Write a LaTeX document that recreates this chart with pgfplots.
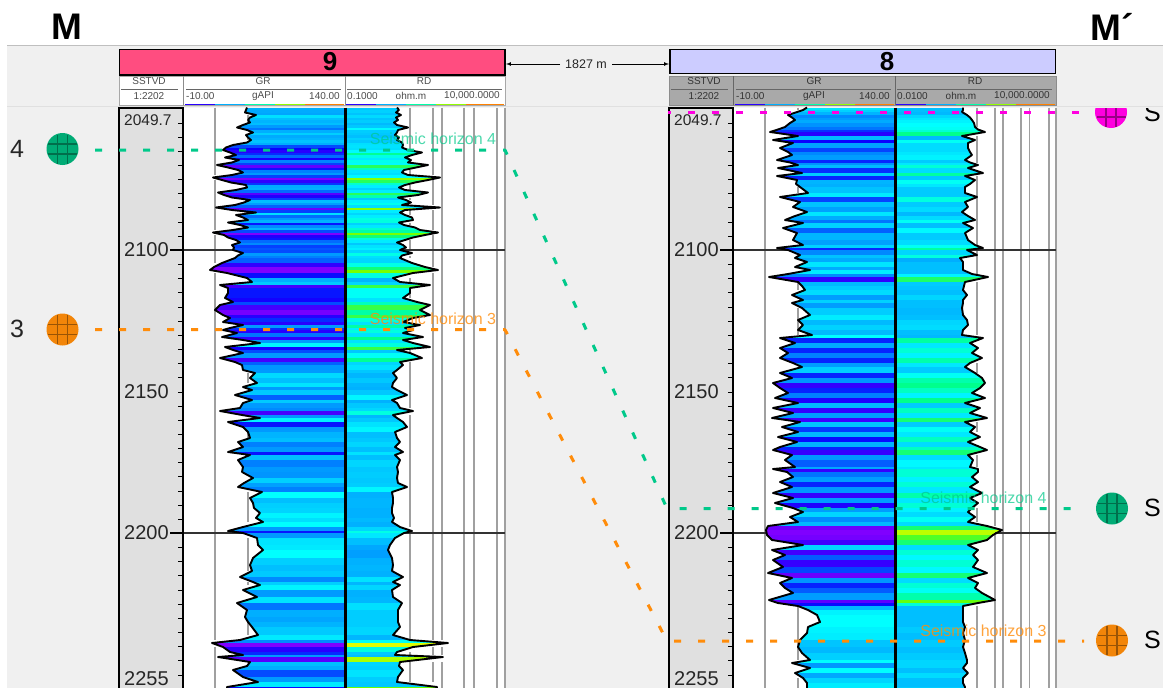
\documentclass[border=0pt]{standalone}
\usepackage{pgfplots}
\usepackage{pgfplotstable}
\usepackage{fontspec}
\setmainfont{Liberation Sans}
\pgfplotsset{compat=1.18}
\definecolor{pagebg}{HTML}{F0F0F0}
\definecolor{depthbg}{HTML}{E0E0E0}
\definecolor{pinkhead}{HTML}{FF4D80}
\definecolor{lavhead}{HTML}{CCCCFF}
\definecolor{subgray}{HTML}{A9A9A9}
\definecolor{gridg}{HTML}{A0A0A0}
\definecolor{hgreen}{HTML}{00C98A}
\definecolor{horange}{HTML}{FF8C0A}
\definecolor{hmag}{HTML}{FF00E0}
\newcommand{\fs}[1]{\fontsize{#1}{#1}\selectfont}
\pgfdeclareplotmark{gband}{\pgfpathrectangle{\pgfpoint{-80pt}{-12pt}}{\pgfpoint{160pt}{12pt}}\pgfusepathqfill}
\pgfdeclareplotmark{blob}{%
  \pgfpathcircle{\pgfpointorigin}{16pt}\pgfusepathqfill
  \pgfsetlinewidth{1.1pt}%
  \pgfpathmoveto{\pgfpoint{-5pt}{-14.5pt}}\pgfpathlineto{\pgfpoint{-5pt}{14.5pt}}%
  \pgfpathmoveto{\pgfpoint{5pt}{-14.5pt}}\pgfpathlineto{\pgfpoint{5pt}{14.5pt}}%
  \pgfpathmoveto{\pgfpoint{-14.5pt}{-5pt}}\pgfpathlineto{\pgfpoint{14.5pt}{-5pt}}%
  \pgfpathmoveto{\pgfpoint{-14.5pt}{5pt}}\pgfpathlineto{\pgfpoint{14.5pt}{5pt}}%
  \pgfusepathqstroke}
\pgfplotstableread{
y
123
137
151
165
179
193.5
207.5
222
236
250
264
278.5
292.5
307
321
335
349
363.5
377.5
392
406
420
434
448.5
462.5
476.5
491
505
519
533
547
561.5
575.5
590
604
618
632
646.5
660.5
675
}\ticktab
\pgfplotstableread{
y gr rd
107.5 247 397
110 246 399
112.5 245 396
115 256 401
117.5 250 396
120 248 398
122.5 250 394
125 243 397
127.5 237 408
130 247 398
132.5 253 397
135 246 395
137.5 248 399
140 251 397
142.5 247 402
145 233 403
147.5 226 402
150 223 408
152.5 230 422
155 236 412
157.5 225 405
160 239 411
162.5 232 408
165 217 428
167.5 228 416
170 238 404
172.5 243 402
175 232 408
177.5 213 440
180 222 428
182.5 231 415
185 246 405
187.5 247 399
190 236 405
192.5 218 428
195 224 418
197.5 232 398
200 250 406
202.5 244 411
205 235 402
207.5 216 440
210 232 405
212.5 256 400
215 236 405
217.5 243 412
220 248 413
222.5 228 399
225 240 404
227.5 248 415
230 233 420
232.5 213 438
235 224 425
237.5 228 413
240 236 405
242.5 240 397
245 232 403
247.5 234 406
250 233 400
253 243 412
255.5 238 402
258 235 400
263 222 412
267 214 425
270 210 438
273 227 413
278 247 393
282 252 400
285 220 430
288 228 410
293 228 410
298 225 403
302 233 417
305 220 430
310 215 420
315 223 430
318 230 413
322 223 403
325 243 420
328 230 405
330 223 413
333 237 403
337 222 423
340 243 403
343 260 413
347 225 430
350 233 397
353 243 410
358 220 422
362 235 400
365 242 403
370 243 397
373 255 393
378 250 397
383 257 393
387 243 392
390 252 397
395 235 407
400 252 392
403 243 397
408 240 400
411 220 413
415 242 393
418 260 397
422 228 403
427 243 407
432 248 395
438 250 397
442 238 400
447 243 395
452 228 403
455 250 395
460 238 400
467 243 397
472 242 398
478 253 397
483 244 398
487 238 407
492 262 392
498 250 393
503 253 393
508 254 392
513 260 392
518 256 394
522 263 392
527 243 400
531 228 412
533 243 404
538 257 395
545 258 390
550 263 388
558 253 392
565 250 393
571 252 392
577 240 403
582 253 393
585 260 400
590 243 392
597 257 393
603 237 402
610 247 398
617 245 398
622 248 398
627 252 400
635 258 393
640 240 410
643 212 448
647 223 413
652 230 397
655 243 395
657 218 443
662 250 400
666 247 399
670 233 403
677 243 398
682 258 397
687 227 437
690 227 437
}\wellA
\pgfplotstableread{
y gr rd
107.5 807 963
110 803 963
112 797 962
115 788 967
117.5 792 970
120 795 972
123 790 974
127 785 975
129.5 778 978
132 770 985
136 798 962
140 773 975
143 793 968
148 780 968
152 788 970
155 792 972
160 777 965
162.5 790 970
165 798 978
168 778 968
173 802 983
176 777 965
180 797 975
184 796 970
187 800 965
193 808 965
197 780 977
202 800 965
207 793 968
212 807 962
216 795 968
220 785 975
223 803 963
228 783 973
233 797 965
240 793 968
245 803 975
248 777 983
250 788 967
255 800 977
258 795 960
262 807 963
267 795 963
270 810 963
274 788 972
277 769 988
282 798 965
286 802 964
290 805 963
295 792 967
300 803 963
303 792 963
308 802 962
315 810 963
320 798 967
325 803 968
330 798 963
335 812 962
338 780 983
343 795 970
348 780 978
353 788 972
358 780 982
363 793 970
367 802 965
373 780 975
378 792 982
383 773 985
388 780 980
393 788 972
398 775 985
403 798 965
408 773 980
413 793 970
418 772 987
422 800 965
427 782 975
432 798 970
437 778 980
442 797 968
447 780 980
450 773 987
455 792 968
460 785 973
467 795 970
469 773 978
472 787 978
477 793 972
482 780 978
487 792 970
493 773 982
498 793 970
503 775 978
508 793 972
512 803 968
517 790 975
522 798 968
526 768 987
530 766 1002
535 767 993
540 772 987
545 803 968
550 772 978
555 785 973
560 773 978
567 783 973
573 768 987
578 792 968
583 780 978
588 785 975
593 793 982
600 769 995
603 778 978
606 798 963
610 808 963
615 817 963
622 820 963
627 808 965
633 807 963
640 800 965
647 798 963
653 802 965
660 810 967
663 792 967
668 810 963
673 795 968
678 803 963
683 807 963
687 807 965
690 807 965
}\wellB
\newcommand{\grid}[4]{% x, table, column, domain
  \addplot[gridg, line width=1.8pt, unbounded coords=jump, restrict expr to domain={\thisrow{#3}}{#4}, forget plot] table[x expr=#1, y=y] {#2};}
\newcommand{\ramp}[6]{%
  \addplot[mesh, point meta=explicit, line width=1pt, forget plot] coordinates {(#1,104.6) [0] (#2,104.6) [1.5] (#3,104.6) [4] (#4,104.6) [5.5] (#5,104.6) [7] (#6,104.6) [8]};}
\newcommand{\depthlabels}[1]{%
  \node[anchor=west, inner sep=0pt, font=\fs{15.5}, text=black!85] at (axis cs:#1,120) {2049.7};
  \node[anchor=west, inner sep=0pt, font=\fs{20}, text=black!85] at (axis cs:#1,250) {2100};
  \node[anchor=west, inner sep=0pt, font=\fs{20}, text=black!85] at (axis cs:#1,392) {2150};
  \node[anchor=west, inner sep=0pt, font=\fs{20}, text=black!85] at (axis cs:#1,533) {2200};
  \node[anchor=west, inner sep=0pt, font=\fs{20}, text=black!85] at (axis cs:#1,679) {2255};}
\newcommand{\htext}[5]{\node[font=\fs{10}, text=#1, anchor=#2, inner sep=0pt] at (axis cs:#3,#4) {#5};}
\begin{document}
\begin{tikzpicture}
\path[use as bounding box, clip] (0,0) rectangle (1163pt,688pt);
\begin{axis}[
  at={(0,0)}, anchor=south west,
  scale only axis, width=1163pt, height=688pt,
  xmin=0, xmax=1163, ymin=0, ymax=688, y dir=reverse,
  axis lines=none, ticks=none, clip mode=individual,
  point meta min=0, point meta max=8,
  colormap={wellmap}{rgb255=(128,0,255) rgb255=(10,0,255) rgb255=(0,128,255) rgb255=(0,191,255) rgb255=(0,255,255) rgb255=(0,255,140) rgb255=(110,255,0) rgb255=(255,255,0) rgb255=(255,0,0)},
  every axis plot/.append style={line join=round},
]
% page
\fill[pagebg] (axis cs:7,46) rectangle (axis cs:1163,688);
\draw[black!25, line width=1pt] (axis cs:7,45.5) -- (axis cs:1163,45.5);
% symbols that the header band clips on the right
\addplot[only marks, mark=blob, mark options={fill=hmag, draw=hmag!60!black}, forget plot] coordinates {(1111,112)};
\node[font=\fs{25}, text=black] at (axis cs:1152.5,113) {S};
\fill[pagebg] (axis cs:1057,46) rectangle (axis cs:1163,107.5);
\draw[white!88!black, line width=1pt] (axis cs:7,106) -- (axis cs:1163,106);
% track backgrounds
\fill[white] (axis cs:183,107.5) rectangle (axis cs:505,688);
\fill[white] (axis cs:733,107.5) rectangle (axis cs:1056,688);
% bands well 9
\addplot[scatter, only marks, mark=gband, point meta=explicit, scatter/use mapped color={draw=mapped color, fill=mapped color}, forget plot] table[x expr=265, y=y, meta expr={min((\thisrow{gr}-214)/12,4)}] {\wellA};
\addplot[scatter, only marks, mark=gband, point meta=explicit, scatter/use mapped color={draw=mapped color, fill=mapped color}, forget plot] table[x expr=425, y=y, meta expr={3+(\thisrow{rd}-395)/14}] {\wellA};
% bands well 8
\addplot[scatter, only marks, mark=gband, point meta=explicit, scatter/use mapped color={draw=mapped color, fill=mapped color}, forget plot] table[x expr=815, y=y, meta expr={\thisrow{y}<335 ? min(2.3+(\thisrow{gr}-790)/13,3.7) : min((\thisrow{gr}-766)/11,4)}] {\wellB};
\addplot[scatter, only marks, mark=gband, point meta=explicit, scatter/use mapped color={draw=mapped color, fill=mapped color}, forget plot] table[x expr=975, y=y, meta expr={3+(\thisrow{rd}-963)/11}] {\wellB};
% white outside the curves
\addplot[fill=white, draw=none, forget plot] table[x=gr, y=y] {\wellA} -- (axis cs:184,690) -- (axis cs:184,107.5) -- cycle;
\addplot[fill=white, draw=none, forget plot] table[x=rd, y=y] {\wellA} -- (axis cs:505,690) -- (axis cs:505,107.5) -- cycle;
\addplot[fill=white, draw=none, forget plot] table[x=gr, y=y] {\wellB} -- (axis cs:734,690) -- (axis cs:734,107.5) -- cycle;
\addplot[fill=white, draw=none, forget plot] table[x=rd, y=y] {\wellB} -- (axis cs:1056,690) -- (axis cs:1056,107.5) -- cycle;
% vertical grid
\grid{215}{\wellA}{gr}{215:1000}
\grid{248}{\wellA}{gr}{248:1000}
\grid{410}{\wellA}{rd}{0:410}
\grid{433}{\wellA}{rd}{0:433}
\grid{442}{\wellA}{rd}{0:442}
\grid{464}{\wellA}{rd}{0:464}
\grid{474}{\wellA}{rd}{0:474}
\grid{497}{\wellA}{rd}{0:497}
\grid{505}{\wellA}{rd}{0:505}
\grid{765}{\wellB}{gr}{765:2000}
\grid{798}{\wellB}{gr}{798:2000}
\grid{977}{\wellB}{rd}{0:977}
\grid{995}{\wellB}{rd}{0:995}
\grid{1003}{\wellB}{rd}{0:1003}
\grid{1021}{\wellB}{rd}{0:1021}
\grid{1029.5}{\wellB}{rd}{0:1030}
\grid{1049}{\wellB}{rd}{0:1049}
\grid{1056}{\wellB}{rd}{0:1056}
% horizontal depth lines
\addplot[black!80, line width=1.2pt, forget plot] coordinates {(175,250) (233,250)};
\addplot[black!80, line width=1.2pt, forget plot] coordinates {(400,250) (505,250)};
\addplot[black!80, line width=1.2pt, forget plot] coordinates {(175,533) (243,533)};
\addplot[black!80, line width=1.2pt, forget plot] coordinates {(404,533) (505,533)};
\addplot[black!80, line width=1.2pt, forget plot] coordinates {(725,250) (788,250)};
\addplot[black!80, line width=1.2pt, forget plot] coordinates {(967,250) (1056,250)};
\addplot[black!80, line width=1.2pt, forget plot] coordinates {(725,533) (767,533)};
\addplot[black!80, line width=1.2pt, forget plot] coordinates {(995,533) (1056,533)};
% log curves
\addplot[black, line width=1.9pt, forget plot] table[x=gr, y=y] {\wellA};
\addplot[black, line width=1.9pt, forget plot] table[x=rd, y=y] {\wellA};
\addplot[black, line width=1.9pt, forget plot] table[x=gr, y=y] {\wellB};
\addplot[black, line width=1.9pt, forget plot] table[x=rd, y=y] {\wellB};
% centre lines
\addplot[black, line width=3pt, forget plot] coordinates {(345,107.5) (345,688)};
\addplot[black, line width=3pt, forget plot] coordinates {(895,107.5) (895,688)};
% depth tracks
\fill[depthbg] (axis cs:119,108) rectangle (axis cs:183,688);
\fill[depthbg] (axis cs:669,108) rectangle (axis cs:733,688);
\draw[black, line width=1.4pt] (axis cs:119,688) -- (axis cs:119,108) -- (axis cs:183,108) -- (axis cs:183,688);
\draw[black, line width=1.4pt] (axis cs:669,688) -- (axis cs:669,108) -- (axis cs:733,108) -- (axis cs:733,688);
\addplot[only marks, mark=-, mark size=2.75pt, mark options={line width=1pt, black}, forget plot] table[x expr=180.3, y=y] {\ticktab};
\addplot[only marks, mark=-, mark size=2.75pt, mark options={line width=1pt, black}, forget plot] table[x expr=730.3, y=y] {\ticktab};
\addplot[black, line width=1.2pt, forget plot] coordinates {(170,250) (183,250)};
\addplot[black, line width=1.2pt, forget plot] coordinates {(720,250) (733,250)};
\addplot[black, line width=1.2pt, forget plot] coordinates {(170,533) (183,533)};
\addplot[black, line width=1.2pt, forget plot] coordinates {(720,533) (733,533)};
\depthlabels{124}
\depthlabels{674}
% headers
\fill[white] (axis cs:119,76) rectangle (axis cs:505,105);
\fill[subgray] (axis cs:669,76) rectangle (axis cs:1056,105);
\draw[pagebg!70!black, line width=.8pt] (axis cs:119,76) rectangle (axis cs:505,105);
\draw[black!45, line width=.8pt] (axis cs:669,76) rectangle (axis cs:1056,105);
\draw[black!45, line width=.8pt] (axis cs:183,76) -- (axis cs:183,105);
\draw[black!45, line width=.8pt] (axis cs:345,76) -- (axis cs:345,105);
\draw[black!60, line width=.8pt] (axis cs:733,76) -- (axis cs:733,105);
\draw[black!60, line width=.8pt] (axis cs:895,76) -- (axis cs:895,105);
\draw[black, fill=pinkhead, line width=1.7pt] (axis cs:119.5,49.5) rectangle (axis cs:505,75);
\draw[black, fill=lavhead, line width=1.7pt] (axis cs:670,49.5) rectangle (axis cs:1055.5,73.5);
\node[font=\fs{26}\bfseries] at (axis cs:330,62) {9};
\node[font=\fs{26}\bfseries] at (axis cs:887,61.5) {8};
\ramp{185}{215}{245}{275}{305}{344}
\ramp{346}{376}{406}{436}{466}{504}
\ramp{735}{765}{795}{825}{855}{894}
\ramp{896}{926}{956}{986}{1016}{1055}
% header labels well 9
\htext{black!70}{center}{149}{81.5}{SSTVD}
\htext{black!70}{center}{149}{96}{1:2202}
\htext{black!70}{center}{263}{81.5}{GR}
\htext{black!70}{center}{263}{96}{gAPI}
\htext{black!70}{center}{424}{81.5}{RD}
\htext{black!70}{center}{411}{96}{ohm.m}
\htext{black!70}{west}{186}{96}{-10.00}
\htext{black!70}{east}{340}{96}{140.00}
\htext{black!70}{west}{347}{96}{0.1000}
\htext{black!70}{east}{500}{96}{10,000.0000}
\draw[black!60, line width=.7pt] (axis cs:121,89) -- (axis cs:178,89);
\draw[black!60, line width=.7pt] (axis cs:186,89) -- (axis cs:341,89);
\draw[black!60, line width=.7pt] (axis cs:347,89) -- (axis cs:502,89);
% header labels well 8
\htext{black!80}{center}{704}{81.5}{SSTVD}
\htext{black!80}{center}{704}{96}{1:2202}
\htext{black!80}{center}{814}{81.5}{GR}
\htext{black!80}{center}{814}{96}{gAPI}
\htext{black!80}{center}{975}{81.5}{RD}
\htext{black!80}{center}{961}{96}{ohm.m}
\htext{black!80}{west}{736}{96}{-10.00}
\htext{black!80}{east}{890}{96}{140.00}
\htext{black!80}{west}{897}{96}{0.0100}
\htext{black!80}{east}{1050}{96}{10,000.0000}
\draw[black!60, line width=.7pt] (axis cs:671,89) -- (axis cs:728,89);
\draw[black!60, line width=.7pt] (axis cs:736,89) -- (axis cs:891,89);
\draw[black!60, line width=.7pt] (axis cs:897,89) -- (axis cs:1052,89);
% distance
\draw[-latex, black, line width=.7pt] (axis cs:560,64) -- (axis cs:506,64);
\draw[-latex, black, line width=.7pt] (axis cs:612,64) -- (axis cs:669,64);
\node[font=\fs{12.5}, text=black!85] at (axis cs:586,64) {1827 m};
% horizons
\addplot[hgreen, line width=3pt, dash pattern=on 7pt off 17pt, dash phase=20pt, forget plot] coordinates {(91,150) (505,150) (667,508.5) (1084,508.5)};
\addplot[horange, line width=3pt, dash pattern=on 7pt off 17pt, dash phase=20pt, forget plot] coordinates {(91,329.7) (505,329.7) (667,641) (1084,641)};
\addplot[hmag, line width=3pt, dash pattern=on 7pt off 17pt, dash phase=4pt, forget plot] coordinates {(668,112) (1084,112)};
\node[font=\fs{16}, text=hgreen, text opacity=.7] at (axis cs:433,139) {Seismic horizon 4};
\node[font=\fs{16}, text=horange, text opacity=.8] at (axis cs:433,318.5) {Seismic horizon 3};
\node[font=\fs{16}, text=hgreen, text opacity=.7] at (axis cs:983.5,497.5) {Seismic horizon 4};
\node[font=\fs{16}, text=horange, text opacity=.8] at (axis cs:983.5,630.5) {Seismic horizon 3};
% surface symbols
\addplot[only marks, mark=blob, mark options={fill=hgreen!85!black, draw=hgreen!55!black}, forget plot] coordinates {(62.5,149) (1112,508.5)};
\addplot[only marks, mark=blob, mark options={fill=horange!95!black, draw=horange!60!black}, forget plot] coordinates {(62.5,329.5) (1112,640.5)};
\node[font=\fs{25}, text=black!85] at (axis cs:17,149) {4};
\node[font=\fs{25}, text=black!85] at (axis cs:17,329) {3};
\node[font=\fs{25}, text=black] at (axis cs:1152.5,508) {S};
\node[font=\fs{25}, text=black] at (axis cs:1152.5,640) {S};
\node[font=\fs{37}\bfseries] at (axis cs:67,27) {M};
\node[font=\fs{37}\bfseries] at (axis cs:1112,27) {M´};
\end{axis}
\end{tikzpicture}
\end{document}
